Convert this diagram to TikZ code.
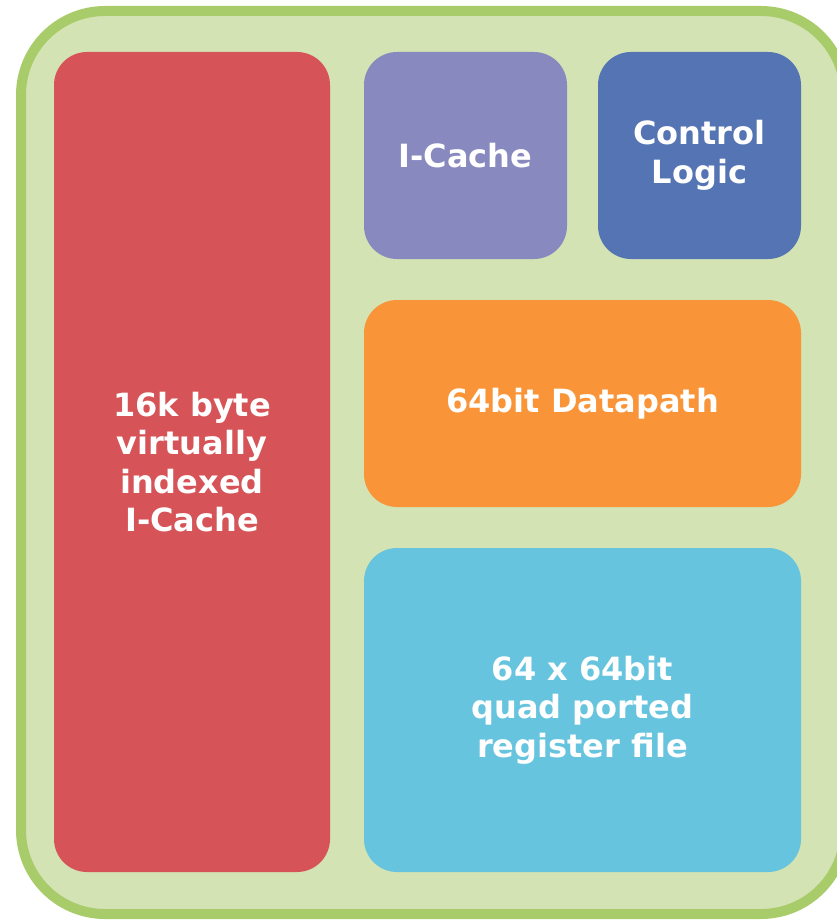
\documentclass[tikz,border=0pt]{standalone}
\usepackage{fontspec}
\setmainfont{DejaVu Sans}
\definecolor{chipedge}{HTML}{A9CC6A}
\definecolor{chipfill}{HTML}{D3E3B4}
\definecolor{redblk}{HTML}{D65357}
\definecolor{lilacblk}{HTML}{8889BF}
\definecolor{blueblk}{HTML}{5474B3}
\definecolor{orangeblk}{HTML}{F99538}
\definecolor{cyanblk}{HTML}{67C4DE}
\tikzstyle{unit} = [rounded corners=33pt, text=white, align=center, inner sep=0pt,
    font=\fontsize{32}{38.5}\selectfont\bfseries]
\begin{document}
\begin{tikzpicture}[x=1pt,y=-1pt]
\useasboundingbox (0,0) rectangle (837,920);
% chip outline
\draw[chipedge, fill=chipfill, line width=10pt, rounded corners=84pt]
    (21,11) rectangle (845,914);
\node[unit, fill=redblk, minimum width=276pt, minimum height=820pt]
    (cache16k) at (192,462) {16k byte\\virtually\\indexed\\I-Cache};
\node[unit, fill=lilacblk, minimum width=203pt, minimum height=207pt]
    (icache) at (465.5,155.5) {I-Cache};
\node[unit, fill=blueblk, minimum width=203pt, minimum height=207pt]
    (ctrl) at (699.5,155.5) {Control\\Logic};
\node[unit, fill=orangeblk, minimum width=437pt, minimum height=207pt]
    (dpath) at (582.5,403.5) {64bit Datapath};
\node[unit, fill=cyanblk, minimum width=437pt, minimum height=324pt]
    (regfile) at (582.5,710) {64 x 64bit\\quad ported\\register file};
\end{tikzpicture}
\end{document}
